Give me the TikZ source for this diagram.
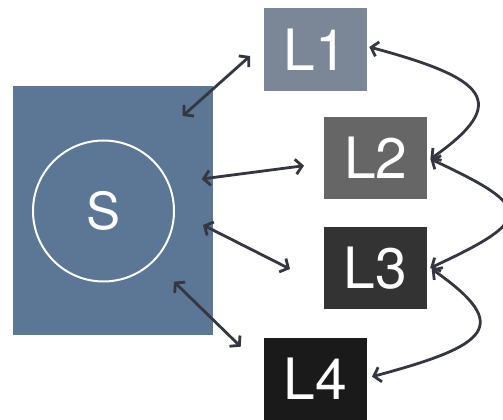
\documentclass[tikz,border=0pt]{standalone}
\usepackage{fontspec}
\setmainfont{TeX Gyre Heros}
\usetikzlibrary{arrows.meta}
\definecolor{sblue}{RGB}{92,118,150}
\definecolor{lone}{RGB}{123,134,151}
\definecolor{ltwo}{RGB}{102,102,102}
\definecolor{lthree}{RGB}{51,51,51}
\definecolor{lfour}{RGB}{26,26,26}
\definecolor{arr}{RGB}{52,55,64}
\begin{document}
\begin{tikzpicture}[x=1pt,y=1pt,
  lbox/.style={minimum width=103pt,minimum height=82.5pt,inner sep=0pt,text=white,
    font=\fontsize{57}{57}\selectfont},
  link/.style={draw=arr,line width=2.8pt,<->,>={Straight Barb[length=6.5pt,width=15pt]}}]
\useasboundingbox (0,0) rectangle (503,420);
\node[fill=sblue,minimum width=200.5pt,minimum height=249pt,inner sep=0pt] (S) at (112.75,209.5) {};
\node[draw=white,line width=2pt,circle,minimum size=141pt,inner sep=0pt,text=white,
  font=\fontsize{51}{51}\selectfont] (C) at (103.5,209) {S};
\node[lbox,fill=lone] (L1) at (315.3,370.5) {L1};
\node[lbox,fill=ltwo] (L2) at (375.7,262) {L2};
\node[lbox,fill=lthree] (L3) at (375.5,152) {L3};
\node[lbox,fill=lfour] (L4) at (315.3,40.8) {L4};
\coordinate (s1) at (182.7,304);
\coordinate (t1) at (250,364);
\coordinate (s2) at (201.7,241);
\coordinate (t2) at (304,254.3);
\coordinate (s3) at (203,195);
\coordinate (t3) at (290,151);
\coordinate (s4) at (174,138.3);
\coordinate (t4) at (240.7,73.3);
\draw[link] (s1) -- (t1);
\draw[link] (s2) -- (t2);
\draw[link] (s3) -- (t3);
\draw[link] (s4) -- (t4);
\coordinate (e1) at ([shift={(2.3,2.5)}]L1.east);
\coordinate (e2) at ([shift={(3,-1)}]L2.east);
\coordinate (e3) at ([shift={(3,0)}]L3.east);
\coordinate (e3b) at ([shift={(4.5,-1)}]L3.east);
\coordinate (e4) at ([shift={(5,2.5)}]L4.east);
\draw[link] (e1) .. controls +(-15:120) and +(35:100) .. (e2);
\draw[link] (e2) .. controls +(-25:115) and +(25:115) .. (e3);
\draw[link] (e3b) .. controls +(-35:100) and +(15:120) .. (e4);
\end{tikzpicture}
\end{document}
